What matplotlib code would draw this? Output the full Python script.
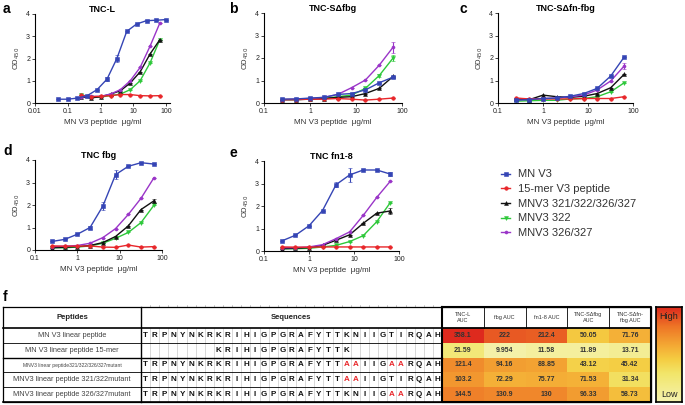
import matplotlib
matplotlib.use('Agg')
import matplotlib.pyplot as plt
import numpy as np
from matplotlib.colors import LinearSegmentedColormap, LogNorm
from matplotlib.lines import Line2D

plt.rcParams['font.family'] = ['Liberation Sans', 'DejaVu Sans']

W, H = 685, 405

# ---------------- data ----------------
conc_blue_a = [0.049, 0.098, 0.195, 0.39, 0.78, 1.56, 3.125, 6.25, 12.5, 25, 50, 100]
conc = [0.25, 0.5, 1, 2, 4, 8, 16, 32, 64]

series_names = ['MN V3', '15-mer V3 peptide', 'MNV3 321/322/326/327', 'MNV3 322', 'MNV3 326/327']
series_colors = ['#3545b5', '#e8262a', '#111111', '#2ec83a', '#9a35c8']
series_markers = ['s', 'o', '^', 'v', 'o']
series_ms = [3.0, 2.6, 2.8, 2.8, 2.2]

panel_titles = ['TNC-L', 'TNC-S\u0394fbg', 'TNC-S\u0394fn-fbg', 'TNC fbg', 'TNC fn1-8']
panel_letters = ['a', 'b', 'c', 'd', 'e']

# panel a (TNC-L)
a_mnv3 = [0.17, 0.17, 0.22, 0.33, 0.6, 1.07, 2.0, 3.22, 3.55, 3.7, 3.72, 3.75]
a_15mer = [0.35, 0.28, 0.3, 0.33, 0.38, 0.38, 0.33, 0.32, 0.33]
a_m4 = [0.27, 0.23, 0.28, 0.4, 0.55, 0.9, 1.4, 2.2, 2.85]
a_m322 = [0.38, 0.25, 0.27, 0.33, 0.4, 0.6, 1.0, 1.8, 2.85]
a_m326 = [0.27, 0.3, 0.3, 0.4, 0.6, 1.0, 1.6, 2.55, 3.6]
a_mnv3_err = [0, 0, 0, 0, 0, 0.1, 0.15, 0, 0, 0, 0, 0]

# panel b (TNC-S delta fbg)
b_mnv3 = [0.17, 0.18, 0.22, 0.25, 0.38, 0.42, 0.58, 0.9, 1.15]
b_15mer = [0.15, 0.15, 0.17, 0.17, 0.2, 0.17, 0.13, 0.17, 0.22]
b_m4 = [0.15, 0.15, 0.17, 0.2, 0.25, 0.28, 0.42, 0.65, 1.18]
b_m322 = [0.15, 0.15, 0.18, 0.2, 0.28, 0.35, 0.65, 1.22, 2.0]
b_m326 = [0.15, 0.17, 0.2, 0.25, 0.38, 0.68, 1.02, 1.68, 2.48]
b_m326_err = [0, 0, 0, 0, 0, 0, 0, 0, 0.25]
b_m322_err = [0, 0, 0, 0, 0, 0, 0, 0.08, 0.12]

# panel c (TNC-S delta fn-fbg)
c_mnv3 = [0.12, 0.15, 0.2, 0.22, 0.3, 0.42, 0.65, 1.2, 2.05]
c_15mer = [0.22, 0.18, 0.18, 0.18, 0.18, 0.2, 0.2, 0.2, 0.28]
c_m4 = [0.18, 0.15, 0.35, 0.28, 0.25, 0.3, 0.42, 0.68, 1.28]
c_m322 = [0.08, 0.1, 0.12, 0.12, 0.18, 0.2, 0.28, 0.5, 0.9]
c_m326 = [0.2, 0.18, 0.2, 0.22, 0.28, 0.35, 0.58, 0.98, 1.65]
c_m326_err = [0, 0, 0, 0, 0, 0, 0, 0, 0.15]

# panel d (TNC fbg)
d_mnv3 = [0.38, 0.47, 0.7, 1.0, 1.95, 3.35, 3.72, 3.88, 3.82]
d_15mer = [0.18, 0.17, 0.17, 0.18, 0.13, 0.12, 0.22, 0.13, 0.15]
d_m4 = [0.1, 0.12, 0.15, 0.2, 0.33, 0.6, 1.07, 1.8, 2.18]
d_m322 = [0.1, 0.1, 0.13, 0.18, 0.3, 0.52, 0.78, 1.22, 1.98]
d_m326 = [0.15, 0.17, 0.2, 0.3, 0.55, 0.95, 1.58, 2.3, 3.2]
d_mnv3_err = [0, 0, 0, 0.08, 0.18, 0.2, 0, 0, 0]
d_m4_err = [0, 0, 0, 0, 0, 0, 0, 0, 0.1]

# panel e (TNC fn1-8)
e_mnv3 = [0.45, 0.7, 1.12, 1.8, 2.95, 3.38, 3.6, 3.6, 3.42]
e_15mer = [0.18, 0.17, 0.17, 0.18, 0.18, 0.18, 0.18, 0.18, 0.18]
e_m4 = [0.1, 0.12, 0.15, 0.25, 0.48, 0.72, 1.23, 1.68, 1.78]
e_m322 = [0.1, 0.1, 0.12, 0.18, 0.25, 0.42, 0.68, 1.3, 2.15]
e_m326 = [0.15, 0.15, 0.18, 0.28, 0.55, 0.85, 1.58, 2.38, 3.1]
e_mnv3_err = [0, 0, 0, 0, 0.1, 0.3, 0, 0, 0.1]
e_m4_err = [0, 0, 0, 0, 0, 0, 0, 0, 0.12]

zeros9 = [0] * 9

# table f
peptide_names = ['MN V3 linear peptide', 'MN V3 linear peptide 15-mer',
                 'MNV3 linear peptide321/322/326/327mutant',
                 'MNV3 linear peptide 321/322mutant', 'MNV3 linear peptide 326/327mutant']
full_seq = 'TRPNYNKRKRIHIGPGRAFYTTKNIIGTIRQAH'
sequences = ['TRPNYNKRKRIHIGPGRAFYTTKNIIGTIRQAH',
             '        KRIHIGPGRAFYTTK          ',
             'TRPNYNKRKRIHIGPGRAFYTTAAIIGAARQAH',
             'TRPNYNKRKRIHIGPGRAFYTTAAIIGTIRQAH',
             'TRPNYNKRKRIHIGPGRAFYTTKNIIGAARQAH']
auc_headers = ['TNC-L\nAUC', 'fbg AUC', 'fn1-8 AUC', 'TNC-S\u0394fbg\nAUC', 'TNC-S\u0394fn-\nfbg AUC']
auc_tncl = [358.1, 21.59, 121.4, 103.2, 144.5]
auc_fbg = [222, 9.954, 94.16, 72.29, 130.9]
auc_fn18 = [212.4, 11.58, 88.85, 75.77, 130]
auc_sdfbg = [50.05, 11.89, 43.12, 71.53, 96.33]
auc_sdfnfbg = [71.76, 13.71, 45.42, 31.34, 58.73]

# ---------------- figure ----------------
fig = plt.figure(figsize=(W / 100, H / 100), dpi=100)


def ax_px(l, t, r, b):
    return fig.add_axes([l / W, 1 - b / H, (r - l) / W, (b - t) / H])


panel_boxes = [(35, 14, 170, 103), (264, 13, 402, 103), (498, 13, 633, 103),
               (35, 160, 162, 250), (264, 161, 399, 251)]
panel_xlims = [(0.01, 130), (0.1, 100), (0.1, 100), (0.1, 100), (0.1, 100)]
panel_xticks = [[0.01, 0.1, 1, 10, 100], [0.1, 1, 10, 100], [0.1, 1, 10, 100],
                [0.1, 1, 10, 100], [0.1, 1, 10, 100]]
letter_pos = [(3, 9), (229, 9), (459, 9), (3, 151), (229, 153)]

panel_data = [
    [(conc_blue_a, a_mnv3, a_mnv3_err), (conc, a_15mer, zeros9), (conc, a_m4, zeros9),
     (conc, a_m322, zeros9), (conc, a_m326, zeros9)],
    [(conc, b_mnv3, zeros9), (conc, b_15mer, zeros9), (conc, b_m4, zeros9),
     (conc, b_m322, b_m322_err), (conc, b_m326, b_m326_err)],
    [(conc, c_mnv3, zeros9), (conc, c_15mer, zeros9), (conc, c_m4, zeros9),
     (conc, c_m322, zeros9), (conc, c_m326, c_m326_err)],
    [(conc, d_mnv3, d_mnv3_err), (conc, d_15mer, zeros9), (conc, d_m4, d_m4_err),
     (conc, d_m322, zeros9), (conc, d_m326, zeros9)],
    [(conc, e_mnv3, e_mnv3_err), (conc, e_15mer, zeros9), (conc, e_m4, e_m4_err),
     (conc, e_m322, zeros9), (conc, e_m326, zeros9)],
]

draw_order = [3, 2, 4, 1, 0]
for p in range(5):
    ax = ax_px(*panel_boxes[p])
    for s in draw_order:
        xs, ys, es = panel_data[p][s]
        ax.errorbar(xs, ys, yerr=es, color=series_colors[s], marker=series_markers[s],
                    ms=series_ms[s], lw=1.0, elinewidth=0.8, capsize=1.5, capthick=0.8,
                    markeredgewidth=0.4, clip_on=False)
    ax.set_xscale('log')
    ax.set_xlim(*panel_xlims[p])
    ax.set_ylim(0, 4)
    ax.set_yticks([0, 1, 2, 3, 4])
    ax.set_xticks(panel_xticks[p])
    ax.set_xticklabels(['%g' % v for v in panel_xticks[p]])
    ax.minorticks_off()
    for sp in ['top', 'right']:
        ax.spines[sp].set_visible(False)
    for sp in ['left', 'bottom']:
        ax.spines[sp].set_linewidth(0.8)
    ax.tick_params(labelsize=5, length=2, width=0.6, pad=1.5, colors='#222')
    ax.set_ylabel('OD$_{450}$', fontsize=5.5, labelpad=3, color='#333')
    ax.set_xlabel('MN V3 peptide  \u03bcg/ml', fontsize=5.8, labelpad=3, color='#333')
    ax.set_title(panel_titles[p], fontsize=6.5, fontweight='bold', pad=1.5)
    fig.text(letter_pos[p][0] / W, 1 - letter_pos[p][1] / H, panel_letters[p],
             fontsize=10, fontweight='bold', va='center', ha='left')

legend_handles = [Line2D([], [], color=series_colors[i], marker=series_markers[i],
                         ms=series_ms[i], lw=1.0, markeredgewidth=0.4) for i in range(5)]
leg = fig.legend(legend_handles, series_names, loc='upper left',
                 bbox_to_anchor=(497 / W, 1 - 165 / H), frameon=False, fontsize=8,
                 handlelength=0.8, handletextpad=0.7, labelspacing=0.42, borderaxespad=0)
for t in leg.get_texts():
    t.set_color('#333')

# ---------------- table ----------------
fig.text(3 / W, 1 - 297 / H, 'f', fontsize=10, fontweight='bold', va='center', ha='left')

ax_t = fig.add_axes([0, 0, 1, 1])
ax_t.patch.set_visible(False)
ax_t.axis('off')

x0, x_pep, x_seq, x_auc = 3, 141, 442, 651
y_top, y_head = 307, 328
row_h = (402 - y_head) / 5
y_bot = y_head + 5 * row_h
n_res = len(full_seq)
col_w = (x_seq - x_pep) / n_res

cmap = LinearSegmentedColormap.from_list('heat', [
    (0.0, '#f5f2ae'), (0.3, '#f2e66a'), (0.45, '#f5cd42'), (0.6, '#f4a834'),
    (0.8, '#ee7426'), (1.0, '#de2a1e')])
norm = LogNorm(vmin=9, vmax=360)

auc_matrix = np.column_stack([auc_tncl, auc_fbg, auc_fn18, auc_sdfbg, auc_sdfnfbg])
ax_t.imshow(auc_matrix, extent=(x_seq, x_auc, y_bot, y_head), cmap=cmap, norm=norm,
            aspect='auto', interpolation='nearest', zorder=1)
ax_t.set_xlim(0, W)
ax_t.set_ylim(H, 0)

# grid lines in sequence area
for k in range(1, n_res):
    xx = x_pep + k * col_w
    ax_t.plot([xx, xx], [y_head, y_bot], color='#bbbbbb', lw=0.4, zorder=2)
    ax_t.plot([xx, xx], [y_top - 2.5, y_top], color='#999999', lw=0.4, zorder=2)

# horizontal row lines
for i in range(1, 5):
    yy = y_head + i * row_h
    ax_t.plot([x0, x_seq], [yy, yy], color='black', lw=1.0 if i == 2 else 0.6, zorder=3)
ax_t.plot([x0, x_seq], [y_head, y_head], color='black', lw=1.2, zorder=3)
# outer border
ax_t.plot([x0, x_auc, x_auc, x0, x0], [y_top, y_top, y_bot, y_bot, y_top], color='black', lw=0.9, zorder=4)
ax_t.plot([x0, x_seq], [y_bot, y_bot], color='black', lw=1.2, zorder=4)
ax_t.plot([x_pep, x_pep], [y_top, y_bot], color='black', lw=1.0, zorder=3)
# AUC block border
ax_t.plot([x_seq, x_auc, x_auc, x_seq, x_seq], [y_top, y_top, y_bot, y_bot, y_top],
          color='black', lw=1.5, zorder=4)
ax_t.plot([x_seq, x_auc], [y_head, y_head], color='black', lw=1.3, zorder=4)
auc_w = (x_auc - x_seq) / 5
for j in range(1, 5):
    xx = x_seq + j * auc_w
    ax_t.plot([xx, xx], [y_top, y_head], color='black', lw=0.6, zorder=4)

# header texts
ax_t.text((x0 + x_pep) / 2, (y_top + y_head) / 2, 'Peptides', ha='center', va='center',
          fontsize=5.5, fontweight='bold', color='#222')
ax_t.text((x_pep + x_seq) / 2, (y_top + y_head) / 2, 'Sequences', ha='center', va='center',
          fontsize=5.5, fontweight='bold', color='#222')
for j, hd in enumerate(auc_headers):
    ax_t.text(x_seq + (j + 0.5) * auc_w, (y_top + y_head) / 2, hd, ha='center', va='center',
              fontsize=4.0, color='#333', linespacing=1.3)

name_sizes = [5.3, 5.3, 3.6, 5.3, 5.3]
for i, nm in enumerate(peptide_names):
    yc = y_head + (i + 0.5) * row_h
    ax_t.text((x0 + x_pep) / 2, yc, nm, ha='center', va='center', fontsize=name_sizes[i],
              color='#444')
    seq = sequences[i]
    for k, ch in enumerate(seq):
        if ch == ' ':
            continue
        col = '#e8262a' if ch != full_seq[k] else '#111111'
        ax_t.text(x_pep + (k + 0.5) * col_w, yc, ch, ha='center', va='center',
                  fontsize=5.8, fontweight='bold', color=col)
    for j in range(5):
        ax_t.text(x_seq + (j + 0.5) * auc_w, yc, '%g' % auc_matrix[i, j], ha='center',
                  va='center', fontsize=5.0, fontweight='bold', color='#333', zorder=5)

# colour scale bar
ax_cb = ax_px(656, 307, 682, 402)
ax_cb.imshow(np.logspace(np.log10(360), np.log10(9), 256)[:, None], cmap=cmap, norm=norm,
             aspect='auto', extent=(0, 1, 0, 1))
ax_cb.set_xticks([])
ax_cb.set_yticks([])
for sp in ax_cb.spines.values():
    sp.set_linewidth(1.2)
ax_cb.text(0.5, 0.9, 'High', ha='center', va='center', fontsize=6.5, color='#222',
           transform=ax_cb.transAxes)
ax_cb.text(0.5, 0.08, 'Low', ha='center', va='center', fontsize=6.5, color='#222',
           transform=ax_cb.transAxes)

fig.savefig('out.png', dpi=100)
